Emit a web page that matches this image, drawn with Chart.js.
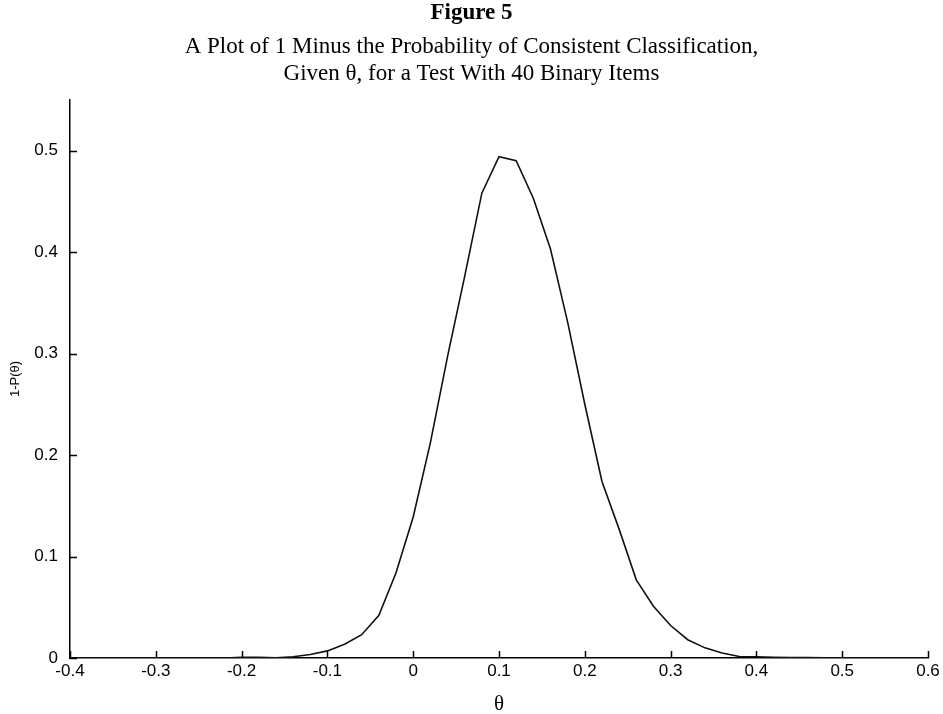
<!DOCTYPE html>
<html><head><meta charset="utf-8">
<script src="https://cdn.jsdelivr.net/npm/chart.js@4/dist/chart.umd.min.js"></script>
<style>html,body{margin:0;padding:0;background:#fff}#wrap{width:943px;height:714px;position:relative}</style>
</head><body><div id="wrap"><canvas id="c"></canvas></div>
<script>
// theta grid (x) and 1-P(theta) values (y)
const thetaValues = [
  -0.40,-0.38,-0.36,-0.34,-0.32,-0.30,-0.28,-0.26,-0.24,-0.22,
  -0.20,-0.18,-0.16,-0.14,-0.12,-0.10,-0.08,-0.06,-0.04,-0.02,
   0.00, 0.02, 0.04, 0.06, 0.08, 0.10, 0.12, 0.14, 0.16, 0.18,
   0.20, 0.22, 0.24, 0.26, 0.28, 0.30, 0.32, 0.34, 0.36, 0.38,
   0.40, 0.42, 0.44, 0.46, 0.48, 0.50, 0.52, 0.54, 0.56, 0.58, 0.60
];
const oneMinusP = [
  0, 0, 0, 0, 0, 0, 0, 0, 0, 0,
  0.0006, 0.0008, 0.0003, 0.0012, 0.0035, 0.007, 0.0135, 0.023, 0.042, 0.084,
  0.139, 0.212, 0.297, 0.376, 0.458, 0.494, 0.490, 0.453, 0.403, 0.331,
  0.250, 0.174, 0.127, 0.077, 0.051, 0.032, 0.018, 0.010, 0.005, 0.0015,
  0.0012, 0.0008, 0.0005, 0.0004, 0.0003, 0.0003, 0.0001, 0, 0, 0, 0
];
const xTickValues = [-0.4,-0.3,-0.2,-0.1,0,0.1,0.2,0.3,0.4,0.5,0.6];
const xTickLabels = ['-0.4','-0.3','-0.2','-0.1','0','0.1','0.2','0.3','0.4','0.5','0.6'];
const yTickValues = [0,0.1,0.2,0.3,0.4,0.5];
const yTickLabels = ['0','0.1','0.2','0.3','0.4','0.5'];

const titleText = 'Figure 5';
const subtitleLines = ['A Plot of 1 Minus the Probability of Consistent Classification,',
                       'Given \u03B8, for a Test With 40 Binary Items'];

const points = thetaValues.map((t, i) => ({x: t, y: oneMinusP[i]}));

const inwardTicks = {
  id: 'inwardTicks',
  afterDraw(chart) {
    const ctx = chart.ctx;
    const xs = chart.scales.x, ys = chart.scales.y;
    const area = chart.chartArea;
    ctx.save();
    ctx.strokeStyle = '#000';
    ctx.lineWidth = 1.5;
    ctx.beginPath();
    xTickValues.forEach(v => {
      const px = Math.round(xs.getPixelForValue(v)) + 0.5;
      ctx.moveTo(px, area.bottom);
      ctx.lineTo(px, area.bottom - 7);
    });
    yTickValues.forEach(v => {
      const py = Math.round(ys.getPixelForValue(v)) + 0.5;
      ctx.moveTo(area.left, py);
      ctx.lineTo(area.left + 7, py);
    });
    ctx.stroke();
    ctx.restore();
  }
};

new Chart(document.getElementById('c'), {
  type: 'line',
  data: {
    datasets: [{
      data: points,
      borderColor: '#111',
      borderWidth: 1.6,
      pointRadius: 0,
      tension: 0,
      fill: false,
      yAxisID: 'y'
    }]
  },
  options: {
    responsive: true,
    maintainAspectRatio: false,
    animation: false,
    layout: {padding: {left: 0, right: 0, top: 0, bottom: 0}},
    plugins: {
      legend: {display: false},
      tooltip: {enabled: false},
      title: {
        display: true, text: titleText, color: '#000',
        font: {family: 'Liberation Serif', size: 23, weight: 'bold', lineHeight: 1.1},
        padding: {top: 0, bottom: 4}
      },
      subtitle: {
        display: true, text: subtitleLines, color: '#000',
        font: {family: 'Liberation Serif', size: 23, weight: 'normal', lineHeight: 1.174},
        padding: {top: 4, bottom: 12.5}
      }
    },
    scales: {
      x: {
        type: 'linear', min: -0.4, max: 0.6,
        afterBuildTicks: s => { s.ticks = xTickValues.map(v => ({value: v})); },
        afterFit: s => { s.height = 56; },
        ticks: {
          autoSkip: false, maxRotation: 0, padding: 3, color: '#000',
          font: {family: 'Liberation Sans', size: 17},
          callback: (v, i) => xTickLabels[i]
        },
        grid: {display: false, drawTicks: false},
        border: {display: true, color: '#000', width: 1.5},
        title: {display: true, text: '\u03B8', color: '#000',
          font: {family: 'Liberation Serif', size: 21, lineHeight: 0.95}, padding: {top: 0, bottom: 0}}
      },
      y: {
        type: 'linear', position: 'left', min: 0, max: 0.55,
        afterBuildTicks: s => { s.ticks = yTickValues.map(v => ({value: v})); },
        afterFit: s => { s.width = 70; },
        ticks: {
          autoSkip: false, padding: 12, color: '#000',
          font: {family: 'Liberation Sans', size: 17},
          callback: (v, i) => yTickLabels[i]
        },
        grid: {display: false, drawTicks: false},
        border: {display: true, color: '#000', width: 1.5},
        title: {display: true, text: '1-P(\u03B8)', color: '#000',
          font: {family: 'Liberation Sans', size: 13}, padding: {top: 8, bottom: 0}}
      },
      rightSpacer: {
        type: 'linear', position: 'right', min: 0, max: 0.55,
        afterBuildTicks: s => { s.ticks = []; },
        afterFit: s => { s.width = 15; },
        ticks: {display: false},
        grid: {display: false, drawTicks: false},
        border: {display: false}
      }
    }
  },
  plugins: [inwardTicks]
});
</script>
</body></html>
